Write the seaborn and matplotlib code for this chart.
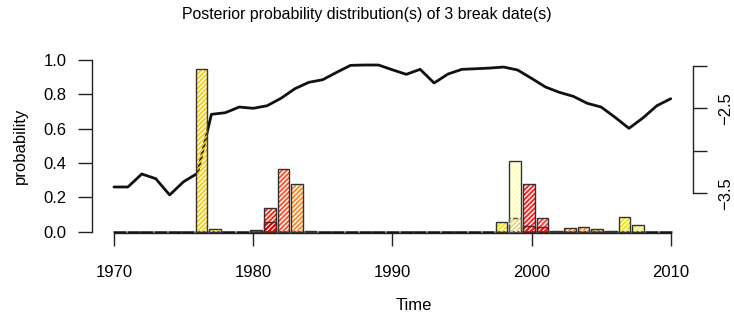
import matplotlib
matplotlib.use("Agg")
import matplotlib.pyplot as plt
import seaborn as sns
import pandas as pd
import numpy as np

# ---------------- data ----------------
years = list(range(1970, 2011))
series_values = [-3.425, -3.425, -3.272, -3.327, -3.519, -3.363, -3.264, -2.569,
                 -2.550, -2.483, -2.498, -2.468, -2.380, -2.267, -2.192, -2.161,
                 -2.074, -1.992, -1.988, -1.988, -2.044, -2.098, -2.039, -2.200,
                 -2.094, -2.039, -2.032, -2.024, -2.012, -2.047, -2.145, -2.247,
                 -2.310, -2.357, -2.439, -2.483, -2.604, -2.734, -2.612, -2.468,
                 -2.385]

b1_years = [1976, 1977]
b1_prob = [0.947, 0.013]
b2_years = [1980, 1981, 1982, 1983, 1984]
b2_prob = [0.008, 0.135, 0.364, 0.275, 0.004]
b3_years = [1998, 1999, 2000, 2001, 2002, 2003, 2004, 2005, 2006, 2007, 2008]
b3_prob = [0.055, 0.410, 0.275, 0.080, 0.005, 0.018, 0.024, 0.013, 0.002, 0.083, 0.036]
ov_years = [1981, 1999, 2000, 2001]
ov_prob = [0.055, 0.077, 0.032, 0.026]

x_ticks = [1970, 1980, 1990, 2000, 2010]
y_ticks = [0.0, 0.2, 0.4, 0.6, 0.8, 1.0]
r_ticks = [-3.5, -3.0, -2.5, -2.0]
r_labels = ["\u22123.5", "", "\u22122.5", ""]

title = "Posterior probability distribution(s) of 3 break date(s)"

# ---------------- styles ----------------
b1_colors = ["#F5CF10", "#FFEE10"]
b2_colors = ["#FF2A10", "#FF2A10", "#FF5530", "#FF8A28", "#FF9030"]
b3_colors = ["#F2E400", "#FFFFB0", "#FF2020", "#FF4040", "#FF6020", "#FF8020",
             "#FF9030", "#C88A10", "#FF9030", "#F2E400", "#F5EE50"]
ov_colors = ["#E00000", "#E0D890", "#FF1010", "#FF1010"]
ov_styles = ["-", "--", "-", "-"]

sns.set_theme(style="white")
plt.rcParams["font.family"] = ["Liberation Sans", "DejaVu Sans"]
plt.rcParams["hatch.linewidth"] = 1.4

W, H = 734, 322
fig = plt.figure(figsize=(W / 100, H / 100), dpi=100)
ax_l, ax_r = 91.7 / W, 693 / W
ax_t, ax_b = 60 / H, 233 / H
ax = fig.add_axes([ax_l, 1 - ax_b, ax_r - ax_l, ax_b - ax_t])
ax2 = ax.twinx()

xlim = (1968.4, 2011.6)

# line (right axis)
df = pd.DataFrame({"year": years, "value": series_values})
sns.lineplot(data=df, x="year", y="value", ax=ax2, color="#111111", lw=2.0)
ax2.set_ylim(-3.967, -1.929)
ax2.set_xlim(*xlim)

def bar_pos(yrs):
    return [1970.41 + 0.98 * (y - 1970) for y in yrs]

bw = 0.83

def draw_bars(yrs, probs, colors, ls="-", edge="#333333", z=3):
    pos = bar_pos(yrs)
    for p, h, c in zip(pos, probs, colors):
        ax.bar(p, h, width=bw, facecolor="none", edgecolor=c, hatch="///////",
               linewidth=0, zorder=z)
        ax.bar(p, h, width=bw, facecolor="none", edgecolor=edge,
               linewidth=1.0, linestyle=ls, zorder=z + 0.5)

# zero-height baseline bars for all years
ax.bar(bar_pos(years), [0] * len(years), width=bw + 0.1, facecolor="none",
       edgecolor="#111111", linewidth=1.8, zorder=2)

draw_bars(b1_years, b1_prob, b1_colors)
draw_bars(b2_years, b2_prob, b2_colors)
draw_bars(b3_years, b3_prob, b3_colors)
for yv, pv, cv, lsv in zip(ov_years, ov_prob, ov_colors, ov_styles):
    draw_bars([yv], [pv], [cv], ls=lsv, edge="#555555" if lsv == "--" else "#552222", z=4)

ax.set_xlim(*xlim)
ax.set_ylim(-0.0087, 1.0)

# put bars above line
ax.set_zorder(ax2.get_zorder() + 1)
ax.patch.set_visible(False)

# spines
for s in ["top", "right"]:
    ax.spines[s].set_visible(False)
for s in ["top", "left", "bottom"]:
    ax2.spines[s].set_visible(False)
ax.spines["left"].set_bounds(0, 1)
ax.spines["bottom"].set_bounds(1970, 2010)
ax2.spines["right"].set_bounds(-3.5, -2.0)
for sp in [ax.spines["left"], ax.spines["bottom"], ax2.spines["right"]]:
    sp.set_color("#222222")
    sp.set_linewidth(1.0)

ax.set_xticks(x_ticks)
ax.set_xticklabels([str(t) for t in x_ticks])
ax.set_yticks(y_ticks)
ax.set_yticklabels([f"{t:.1f}" for t in y_ticks])
ax.tick_params(axis="x", direction="out", length=9, width=1, color="#222222",
               labelsize=12, pad=14, bottom=True, labelcolor="black")
ax.tick_params(axis="y", direction="out", length=10, width=1, color="#222222",
               labelsize=12, pad=8, left=True, labelcolor="black")
ax2.set_yticks(r_ticks)
ax2.set_yticklabels(r_labels)
ax2.tick_params(axis="y", direction="out", length=10, width=1, color="#222222",
                labelsize=12, pad=8, right=True, labelcolor="black")
for lbl in ax2.get_yticklabels():
    lbl.set_rotation(90)
    lbl.set_va("center")
ax2.set_ylabel("")
ax2.set_xlabel("")
ax.grid(False)
ax2.grid(False)

fig.text(367 / W, 1 - 14 / H, title, ha="center", va="center", fontsize=11.4,
         color="black")
fig.text(414 / W, 1 - 305 / H, "Time", ha="center", va="center", fontsize=12,
         color="black")
fig.text(20 / W, 1 - 146 / H, "probability", ha="center", va="center",
         rotation=90, fontsize=12, color="black")

fig.savefig("out.png", dpi=100)
